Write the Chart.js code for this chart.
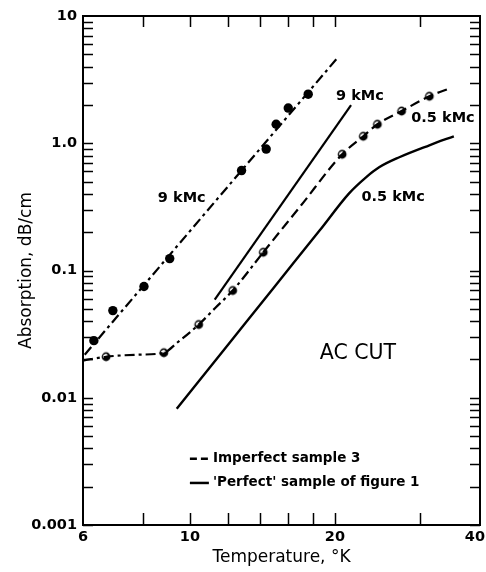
<!DOCTYPE html>
<html><head><meta charset="utf-8">
<script src="https://cdn.jsdelivr.net/npm/chart.js@4/dist/chart.umd.min.js"></script>
<style>html,body{margin:0;padding:0;background:#fff;}#wrap{width:486px;height:572px;}</style>
</head><body><div id="wrap"><canvas id="c" width="486" height="572"></canvas></div>
<script>
// ---- data (temperature in K, absorption in dB/cm) ----
const xTickLabels = [6, 10, 20, 40];
const yTickLabels = ['0.001', '0.01', '0.1', '1.0', '10'];
const yTickValues = [0.001, 0.01, 0.1, 1, 10];
const xMinorTicks = [8, 10, 12, 14, 16, 18, 20, 30];

// Imperfect sample 3, 9 kMc (filled dots + fitted line)
const imp9Temp = [6.32, 6.92, 8.03, 9.08, 12.8, 14.4, 15.1, 16.0, 17.6];
const imp9Abs  = [0.0281, 0.0484, 0.0748, 0.124, 0.61, 0.90, 1.41, 1.89, 2.43];
const imp9LineTemp = [6.05, 20.3];
const imp9LineAbs  = [0.0218, 4.75];

// 'Perfect' sample, 9 kMc
const perf9Temp = [11.26, 21.6];
const perf9Abs  = [0.0591, 1.99];

// Imperfect sample 3, 0.5 kMc (half-filled dots + curve)
const imp05Temp = [6.7, 8.83, 10.43, 12.27, 14.2, 20.7, 22.9, 24.5, 27.5, 31.4];
const imp05Abs  = [0.0210, 0.0226, 0.0376, 0.0696, 0.139, 0.819, 1.135, 1.41, 1.79, 2.34];
const imp05CurveTemp = [6.0, 6.7, 7.8, 8.83, 9.4, 10.43, 11.3, 12.27, 14.2, 17.0, 20.7, 22.9, 24.5, 27.5, 31.4, 34.7];
const imp05CurveAbs  = [0.0196, 0.0210, 0.0218, 0.0226, 0.027, 0.0376, 0.051, 0.0696, 0.139, 0.324, 0.819, 1.135, 1.41, 1.79, 2.34, 2.71];

// 'Perfect' sample, 0.5 kMc
const perf05Temp = [9.39, 12.0, 15.0, 18.6, 21.4, 23.2, 24.7, 27.2, 31.4, 35.3];
const perf05Abs  = [0.00818, 0.0261, 0.075, 0.207, 0.404, 0.54, 0.647, 0.776, 0.964, 1.135];

// text annotations (anchored in data coordinates)
const notes = [
  {text: '9 kMc',   x: 8.58, y: 0.369, size: 14.5, bold: true},
  {text: '9 kMc',   x: 20.1, y: 2.34,  size: 14.5, bold: true},
  {text: '0.5 kMc', x: 28.8, y: 1.57,  size: 14.5, bold: true},
  {text: '0.5 kMc', x: 22.7, y: 0.376, size: 14.5, bold: true},
  {text: 'AC CUT',  x: 18.6, y: 0.0224, size: 20.5, bold: false}
];
const legendItems = [
  {text: 'Imperfect sample 3', dash: [7, 4], y: 0.00331},
  {text: "'Perfect' sample of figure 1", dash: [], y: 0.00214}
];

const FONT = "'DejaVu Sans', sans-serif";
const pts = (xs, ys) => xs.map((x, i) => ({x: x, y: ys[i]}));

function halfMarker() {
  const c = document.createElement('canvas');
  c.width = 12; c.height = 12;
  const g = c.getContext('2d');
  g.fillStyle = '#000';
  g.beginPath(); g.arc(6, 6, 4.4, 0, Math.PI * 2); g.fill();
  g.fillStyle = '#fff';
  g.beginPath(); g.arc(5.6, 5.8, 2.6, Math.PI * 0.85, Math.PI * 1.85); g.closePath(); g.fill();
  return c;
}

const decor = {
  id: 'decor',
  afterDraw(chart) {
    const {ctx, chartArea: a, scales: {x, y}} = chart;
    ctx.save();
    ctx.strokeStyle = '#000';
    ctx.lineWidth = 1.5;
    const seg = (x1, y1, x2, y2) => { ctx.beginPath(); ctx.moveTo(x1, y1); ctx.lineTo(x2, y2); ctx.stroke(); };
    xMinorTicks.forEach(v => {
      const px = Math.round(x.getPixelForValue(v)) + 0.5;
      seg(px, a.bottom, px, a.bottom - 12);
      seg(px, a.top, px, a.top + 11);
    });
    for (let d = 0.001; d < 5; d *= 10) {
      for (let m = 1; m <= 9; m++) {
        const py = Math.round(y.getPixelForValue(d * m)) + 0.5;
        seg(a.left, py, a.left + 10, py);
        seg(a.right, py, a.right - 10, py);
      }
    }
    ctx.lineWidth = 2;
    ctx.strokeRect(a.left, a.top, a.right - a.left, a.bottom - a.top);

    ctx.fillStyle = '#000';
    ctx.textBaseline = 'middle';
    ctx.textAlign = 'left';
    notes.forEach(n => {
      ctx.font = (n.bold ? 'bold ' : '') + n.size + 'px ' + FONT;
      ctx.fillText(n.text, x.getPixelForValue(n.x), y.getPixelForValue(n.y));
    });
    const lx0 = x.getPixelForValue(10.0), lx1 = x.getPixelForValue(10.95);
    ctx.font = 'bold 13.5px ' + FONT;
    legendItems.forEach(it => {
      const py = y.getPixelForValue(it.y);
      ctx.lineWidth = 2.5;
      ctx.setLineDash(it.dash);
      seg(lx0, py, lx1, py);
      ctx.setLineDash([]);
      ctx.fillText(it.text, lx1 + 4, py);
    });
    ctx.restore();
  }
};

const lineBase = {borderColor: '#000', borderWidth: 2.2, pointRadius: 0, fill: false};

new Chart(document.getElementById('c'), {
  type: 'line',
  data: {
    datasets: [
      Object.assign({label: 'Imperfect 9 kMc fit', data: pts(imp9LineTemp, imp9LineAbs), borderDash: [10, 4, 3, 4]}, lineBase),
      {label: 'Imperfect 9 kMc', data: pts(imp9Temp, imp9Abs), showLine: false, pointRadius: 4.7,
       pointBackgroundColor: '#000', pointBorderColor: '#000', pointBorderWidth: 0},
      Object.assign({label: 'Perfect 9 kMc', data: pts(perf9Temp, perf9Abs)}, lineBase),
      Object.assign({label: 'Imperfect 0.5 kMc curve', data: pts(imp05CurveTemp, imp05CurveAbs),
        cubicInterpolationMode: 'monotone',
        segment: {borderDash: ctx => ctx.p0.parsed.x < 13.5 ? [10, 4, 3, 4] : [10, 5]}}, lineBase),
      {label: 'Imperfect 0.5 kMc', data: pts(imp05Temp, imp05Abs), showLine: false,
       pointStyle: halfMarker(), pointRadius: 5},
      Object.assign({label: 'Perfect 0.5 kMc', data: pts(perf05Temp, perf05Abs),
        cubicInterpolationMode: 'monotone'}, lineBase, {borderWidth: 2.4})
    ]
  },
  options: {
    responsive: false,
    animation: false,
    devicePixelRatio: 1,
    layout: {padding: {top: 16, right: 5, left: 0, bottom: 0}},
    plugins: {legend: {display: false}, tooltip: {enabled: false}},
    scales: {
      x: {
        type: 'logarithmic', min: 6, max: 40,
        afterBuildTicks: s => { s.ticks = xTickLabels.map(v => ({value: v})); },
        afterFit: s => { s.height = 47; s.paddingLeft = 0; s.paddingRight = 0; },
        ticks: {autoSkip: false, maxRotation: 0, padding: 4, color: '#000',
          font: {family: FONT, size: 14.5, weight: 'bold'},
          callback: v => (v === 40 ? '40\u2007' : String(v))},
        grid: {display: false, drawTicks: false},
        border: {display: false},
        title: {display: true, text: 'Temperature, °K', color: '#000',
          font: {family: FONT, size: 17}, padding: {top: 0, bottom: 4}}
      },
      y: {
        type: 'logarithmic', min: 0.001, max: 10,
        afterBuildTicks: s => { s.ticks = yTickValues.map(v => ({value: v})); },
        afterFit: s => { s.width = 83; s.paddingTop = 0; s.paddingBottom = 0; },
        ticks: {autoSkip: false, padding: 6, color: '#000',
          font: {family: FONT, size: 14.5, weight: 'bold'},
          callback: (v, i) => yTickLabels[i]},
        grid: {display: false, drawTicks: false},
        border: {display: false},
        title: {display: true, text: 'Absorption, dB/cm', color: '#000',
          font: {family: FONT, size: 17}, padding: {top: 16, bottom: 0}}
      }
    }
  },
  plugins: [decor]
});
</script>
</body></html>
